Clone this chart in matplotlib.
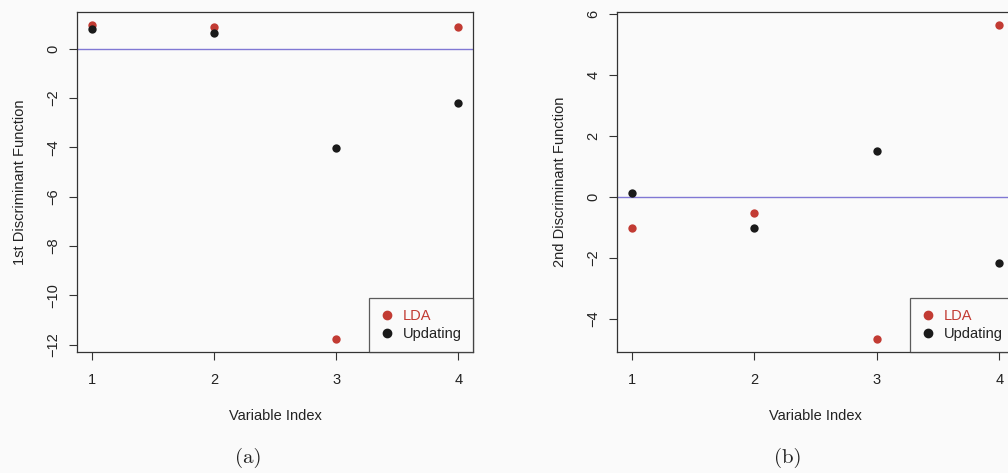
import numpy as np
import matplotlib
matplotlib.use("Agg")
import matplotlib.pyplot as plt
from matplotlib.lines import Line2D

# data
var_index = [1, 2, 3, 4]
lda_1st = [0.97, 0.87, -11.78, 0.87]
upd_1st = [0.79, 0.61, -4.02, -2.20]
lda_2nd = [-1.04, -0.52, -4.68, 5.65]
upd_2nd = [0.13, -1.02, 1.50, -2.16]

yticks_1st = [-12, -10, -8, -6, -4, -2, 0]
yticks_2nd = [-4, -2, 0, 2, 4, 6]

red = "#c23b33"
dark = "#1a1a1a"
frame = "#333333"
bg = "#fafafa"

plt.rcParams['font.family'] = ['Liberation Sans', 'DejaVu Sans']

fig = plt.figure(figsize=(10.08, 4.73), dpi=100, facecolor=bg)
W, H = 1008, 473


def panel(left_px, right_px, lda, upd, yticks, ylabel, caption, cap_x):
    ax = fig.add_axes([left_px / W, 1 - 352 / H, (right_px - left_px) / W, (352 - 12) / H])
    ax.set_facecolor(bg)
    allv = np.array(lda + upd)
    lo, hi = allv.min(), allv.max()
    pad = 0.04 * (hi - lo)
    ax.set_ylim(lo - pad, hi + pad)
    ax.set_xlim(1 - 0.12, 4 + 0.12)
    ax.axhline(0, color="#8078d4", lw=1.0, zorder=1)
    ax.scatter(var_index, lda, s=36, color=red, zorder=3, linewidths=0)
    ax.scatter(var_index, upd, s=36, color=dark, zorder=4, linewidths=0)
    ax.set_xticks(var_index)
    ax.set_yticks(yticks)
    ax.set_yticklabels([str(t).replace('-', '\u2212') for t in yticks],
                       rotation=90, va='center')
    ax.tick_params(direction='out', length=6, width=0.8, colors=frame,
                   labelsize=10.5, labelcolor='#222222')
    ax.tick_params(axis='x', pad=9)
    ax.tick_params(axis='y', pad=6)
    for s in ax.spines.values():
        s.set_color(frame)
        s.set_linewidth(0.9)
    ax.set_xlabel("Variable Index", fontsize=10.5, color='#222222', labelpad=16)
    ax.set_ylabel(ylabel, fontsize=10.5, color='#222222', labelpad=14)
    handles = [Line2D([], [], ls='none', marker='o', ms=6, mfc=red, mec=red),
               Line2D([], [], ls='none', marker='o', ms=6, mfc=dark, mec=dark)]
    leg = ax.legend(handles, ["LDA", "Updating"], loc='lower right',
                    frameon=True, fancybox=False, fontsize=10.5,
                    borderaxespad=0, handletextpad=0.6, handlelength=1.0,
                    borderpad=0.75, labelspacing=0.3)
    leg.get_frame().set_edgecolor(frame)
    leg.get_frame().set_facecolor(bg)
    leg.get_frame().set_linewidth(0.9)
    leg.get_texts()[0].set_color(red)
    leg.get_texts()[1].set_color('#222222')
    fig.text(cap_x / W, 1 - 458 / H, caption, fontsize=15, family='cmr10',
             ha='center', va='center', color='#222222')
    return ax


panel(77, 473, lda_1st, upd_1st, yticks_1st, "1st Discriminant Function", "(a)", 248)
panel(617, 1014, lda_2nd, upd_2nd, yticks_2nd, "2nd Discriminant Function", "(b)", 788)

fig.savefig("out.png", dpi=100, facecolor=bg)
